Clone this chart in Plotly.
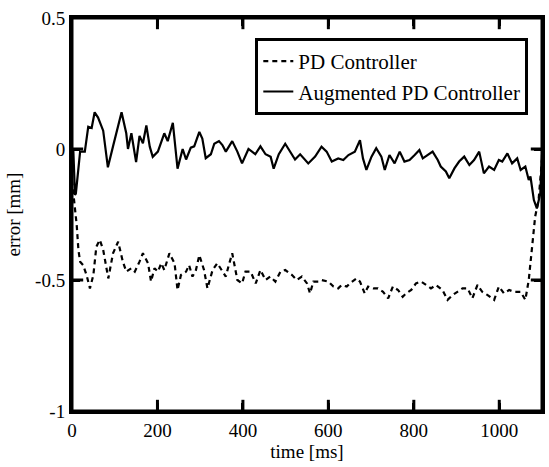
import plotly.graph_objects as go

# ── Data ────────────────────────────────────────
# Augmented PD Controller (solid)
aug_t = [0, 3, 7, 9, 19, 30, 38, 46, 53, 61, 73, 84, 96, 116, 127, 131, 139,
         150, 158, 166, 174, 182, 189, 201, 216, 224, 236, 247, 259, 267, 278,
         286, 298, 305, 313, 325, 333, 344, 352, 360, 375, 387, 398, 413, 429,
         441, 453, 465, 472, 484, 499, 511, 522, 534, 553, 569, 584, 596, 608,
         623, 635, 647, 662, 674, 681, 689, 701, 712, 724, 732, 743, 755, 767,
         778, 790, 802, 813, 821, 833, 844, 856, 863, 875, 883, 895, 906, 918,
         930, 941, 953, 964, 976, 988, 999, 1007, 1019, 1030, 1042, 1050, 1061,
         1069, 1073, 1081, 1088, 1096, 1100]
aug_err = [0.0, 0.0, -0.175, -0.17, -0.01, -0.01, 0.085, 0.08, 0.14, 0.12, 0.07,
           -0.07, 0.01, 0.14, 0.06, 0.0, 0.06, -0.05, 0.05, 0.022, 0.09, 0.009,
           -0.03, -0.01, 0.06, 0.03, 0.1, -0.075, 0.0, -0.04, 0.005, 0.01, 0.065,
           0.04, -0.035, -0.02, 0.02, 0.03, 0.015, -0.01, 0.03, -0.01, -0.055,
           0.0, -0.02, 0.01, -0.02, -0.03, -0.075, -0.02, 0.02, -0.01, -0.04,
           -0.02, -0.055, -0.029, 0.009, -0.01, -0.048, -0.036, -0.042, -0.023,
           -0.01, 0.034, -0.036, -0.08, -0.029, 0.003, -0.029, -0.08, -0.023,
           -0.055, -0.01, -0.048, -0.042, -0.023, -0.004, -0.036, -0.023, -0.01,
           -0.042, -0.067, -0.086, -0.112, -0.074, -0.048, -0.029, -0.061,
           -0.042, -0.01, -0.093, -0.067, -0.08, -0.042, -0.048, -0.017, -0.055,
           -0.036, -0.08, -0.067, -0.118, -0.105, -0.195, -0.227, -0.17, -0.02]

# PD Controller (dashed)
pd_t = [0, 7, 11, 15, 19, 26, 34, 42, 50, 57, 65, 73, 85, 96, 108, 119, 127,
        139, 147, 158, 166, 178, 185, 193, 201, 209, 216, 228, 240, 247, 255,
        267, 274, 282, 290, 298, 309, 317, 329, 340, 352, 360, 367, 375, 387,
        398, 406, 418, 430, 441, 453, 464, 476, 488, 499, 515, 526, 538, 550,
        557, 565, 577, 584, 600, 612, 623, 631, 643, 650, 666, 674, 685, 693,
        705, 716, 728, 740, 751, 763, 774, 782, 794, 805, 817, 829, 840, 852,
        867, 879, 891, 902, 914, 926, 937, 949, 960, 972, 988, 999, 1011, 1023,
        1034, 1050, 1061, 1069, 1077, 1084, 1092, 1100]
pd_err = [-0.12, -0.233, -0.29, -0.385, -0.43, -0.443, -0.481, -0.532, -0.481,
          -0.373, -0.347, -0.385, -0.494, -0.398, -0.354, -0.43, -0.468, -0.455,
          -0.468, -0.43, -0.398, -0.436, -0.506, -0.455, -0.468, -0.436, -0.462,
          -0.398, -0.436, -0.538, -0.481, -0.468, -0.443, -0.487, -0.462, -0.405,
          -0.462, -0.532, -0.462, -0.436, -0.468, -0.487, -0.443, -0.398, -0.5,
          -0.513, -0.468, -0.468, -0.513, -0.462, -0.5, -0.487, -0.506, -0.468,
          -0.462, -0.481, -0.5, -0.487, -0.513, -0.551, -0.506, -0.506, -0.5,
          -0.506, -0.525, -0.532, -0.519, -0.525, -0.513, -0.494, -0.506, -0.551,
          -0.525, -0.532, -0.532, -0.545, -0.57, -0.525, -0.538, -0.564, -0.551,
          -0.538, -0.513, -0.506, -0.519, -0.532, -0.519, -0.538, -0.576, -0.557,
          -0.545, -0.532, -0.532, -0.57, -0.519, -0.545, -0.557, -0.576, -0.525,
          -0.551, -0.538, -0.545, -0.545, -0.576, -0.5, -0.373, -0.258, -0.195,
          -0.04]

x_ticks = [0, 200, 400, 600, 800, 1000]
y_ticks = [-1, -0.5, 0, 0.5]
y_tick_text = ['-1', '-0.5', '0', '0.5']
X_RANGE = [0, 1100]
Y_RANGE = [-1, 0.5]

FONT = 'Liberation Serif'
FS = 19

fig = go.Figure()
fig.add_trace(go.Scatter(
    x=pd_t, y=pd_err, name='PD Controller', mode='lines',
    line=dict(color='black', width=2.2, dash='5px,4px')
))
fig.add_trace(go.Scatter(
    x=aug_t, y=aug_err, name='Augmented PD Controller', mode='lines',
    line=dict(color='black', width=2.2)
))

# matlab-style inside ticks on all four sides, drawn as clipped line markers
xt = x_ticks[1:] * 2
yt = [Y_RANGE[0]] * 5 + [Y_RANGE[1]] * 5
fig.add_trace(go.Scatter(
    x=xt, y=yt, mode='markers', showlegend=False, hoverinfo='skip',
    marker=dict(symbol='line-ns-open', size=16, color='black',
                line=dict(color='black', width=3))
))
yv = y_ticks[1:-1] * 2
xv = [X_RANGE[0]] * 2 + [X_RANGE[1]] * 2
fig.add_trace(go.Scatter(
    x=xv, y=yv, mode='markers', showlegend=False, hoverinfo='skip',
    marker=dict(symbol='line-ew-open', size=16, color='black',
                line=dict(color='black', width=3))
))

axis_common = dict(
    showgrid=False, zeroline=False,
    showline=True, linecolor='black', linewidth=3, mirror='allticks',
    ticks='inside', ticklen=8, tickwidth=3, tickcolor='black',
    tickfont=dict(family=FONT, size=FS, color='black'),
)
fig.update_xaxes(
    range=X_RANGE, tickvals=x_ticks,
    title=dict(text='time [ms]', font=dict(family=FONT, size=FS, color='black'),
               standoff=2),
    **axis_common
)
fig.update_yaxes(
    range=Y_RANGE, tickvals=y_ticks, ticktext=y_tick_text,
    title=dict(text='error [mm]', font=dict(family=FONT, size=FS, color='black'),
               standoff=10),
    **axis_common
)

# frame around plot area
fig.add_shape(type='rect', xref='paper', yref='paper', x0=0, y0=0, x1=1, y1=1,
              line=dict(color='black', width=3), layer='above')

fig.update_layout(
    width=549, height=467,
    paper_bgcolor='white', plot_bgcolor='white',
    margin=dict(l=72, r=4, t=18, b=56),
    font=dict(family=FONT, size=FS, color='black'),
    legend=dict(
        x=0.39, y=0.949, xanchor='left', yanchor='top',
        bgcolor='white', bordercolor='black', borderwidth=3,
        font=dict(family=FONT, size=21, color='black'),
        tracegroupgap=0, itemwidth=30
    ),
    showlegend=True
)

fig.write_html("out.html", config={'displayModeBar': False},
               post_script="document.body.style.margin='0';")
